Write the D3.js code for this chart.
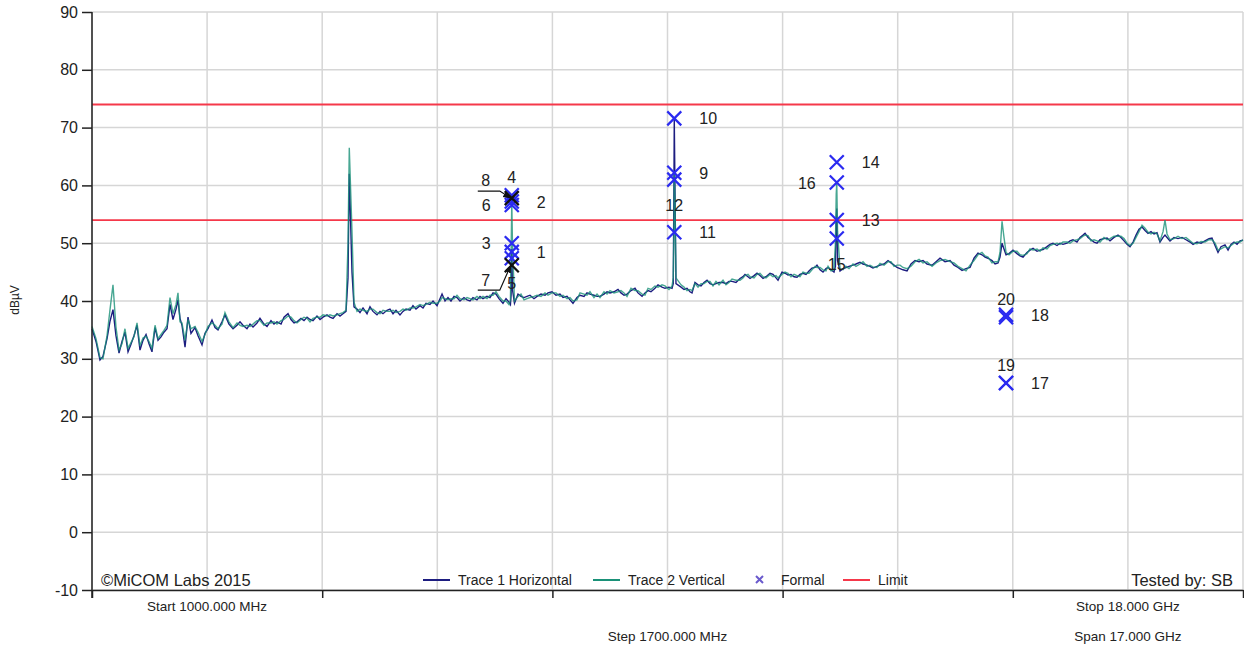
<!DOCTYPE html>
<html>
<head>
<meta charset="utf-8">
<script src="https://cdn.jsdelivr.net/npm/d3@7"></script>
<style>
  body { margin: 0; background: #fff; }
  svg { display: block; font-family: "Liberation Sans", Arial, sans-serif; }
</style>
</head>
<body>
<div id="chart"></div>
<script>
// sweep points (MHz) and the two traces (dBuV)
const freqMHz = [
  1000,1059,1118,1162,1222,1266,1310,1354,1399,1443,1487,1532,1576,1620,1665,1709,1753,1798,1842,1886,
  1931,1975,2019,2063,2108,2152,2196,2241,2270,2300,2329,2374,2418,2462,2521,2566,2625,2669,2713,2772,
  2817,2861,2920,2964,3023,3083,3142,3186,3230,3289,3334,3378,3437,3481,3540,3585,3644,3688,3732,3792,
  3836,3895,3939,3984,4028,4087,4131,4176,4220,4264,4323,4368,4412,4471,4515,4560,4619,4663,4707,4752,
  4781,4800,4840,4870,4914,4958,5003,5062,5106,5150,5209,5254,5298,5357,5401,5446,5490,5549,5593,5638,
  5697,5741,5785,5845,5889,5933,5992,6037,6096,6140,6170,6214,6258,6302,6347,6391,6435,6494,6539,6583,
  6627,6686,6731,6775,6834,6878,6923,6967,7011,7070,7115,7159,7180,7190,7200,7210,7240,7292,7336,7381,
  7425,7469,7528,7573,7632,7691,7735,7794,7853,7912,7957,8016,8060,8104,8163,8208,8267,8311,8355,8414,
  8459,8503,8562,8607,8651,8710,8769,8813,8858,8902,8961,9020,9064,9124,9168,9212,9256,9315,9360,9419,
  9463,9522,9567,9585,9595,9600,9610,9625,9700,9744,9788,9832,9862,9906,9951,9995,10039,10084,10128,10172,
  10216,10261,10320,10364,10408,10453,10512,10571,10615,10645,10689,10719,10778,10822,10866,10911,10955,11014,11058,11103,
  11132,11191,11236,11280,11324,11369,11413,11457,11501,11546,11590,11634,11679,11708,11753,11797,11841,11871,11915,11959,
  11980,11992,12000,12012,12048,12092,12136,12181,12240,12284,12343,12388,12447,12491,12535,12594,12639,12698,12757,12801,
  12846,12890,12934,12978,13038,13097,13156,13215,13274,13333,13407,13466,13525,13599,13673,13732,13791,13850,13909,13968,
  14027,14086,14145,14190,14234,14293,14338,14382,14411,14441,14470,14500,14544,14603,14662,14707,14751,14810,14854,14899,
  14958,15002,15046,15105,15150,15194,15253,15297,15341,15401,15445,15489,15548,15593,15637,15667,15711,15755,15800,15844,
  15888,15947,15992,16036,16095,16154,16198,16243,16287,16331,16376,16420,16464,16509,16553,16597,16641,16686,16730,16774,
  16819,16848,16878,16922,16981,17040,17099,17158,17218,17262,17321,17380,17439,17498,17542,17587,17631,17675,17734,17779,
  17823,17867,17912,17956,18000
];

const trace1 = [
  35.2,33.0,29.8,30.4,33.5,36.5,38.5,34.0,31.0,33.0,34.6,31.2,32.5,34.0,35.8,31.5,33.2,34.2,32.6,31.2,
  35.4,33.2,33.8,34.6,35.2,39.4,36.8,38.6,40.2,37.0,35.8,32.0,37.2,34.4,35.4,34.0,32.4,34.4,35.2,36.7,
  35.4,35.0,36.4,37.6,36.0,35.2,35.8,36.4,35.8,35.2,36.0,35.5,36.2,37.0,36.0,35.6,36.6,36.0,36.4,36.0,
  37.2,37.8,36.8,36.2,36.4,37.0,36.6,37.2,36.8,36.6,37.4,36.8,37.2,37.6,37.2,37.0,37.8,37.4,37.8,38.2,
  44.0,62.0,45.0,39.0,38.6,38.0,38.8,37.8,39.0,38.2,37.6,38.2,37.8,38.4,38.6,37.8,38.4,37.6,38.2,38.6,
  38.4,39.2,38.6,39.2,38.8,39.6,39.4,40.0,39.2,40.4,41.2,40.0,40.6,40.0,40.8,40.6,40.0,40.6,40.2,40.0,
  40.6,40.2,40.8,40.4,40.8,40.6,41.4,41.2,40.4,39.6,40.4,39.8,39.4,41.0,49.0,42.0,39.6,41.2,40.8,40.6,
  40.8,41.0,40.4,40.8,41.2,41.0,41.4,41.6,41.0,41.2,40.6,40.8,40.2,39.6,40.6,41.0,40.8,41.4,41.2,41.0,
  40.8,40.8,41.2,41.6,41.4,41.6,42.0,41.4,41.0,41.2,41.8,42.2,41.4,40.8,41.4,41.8,41.6,42.2,42.8,42.4,
  42.2,42.4,42.2,43.0,60.0,71.5,60.0,43.0,42.4,42.0,42.2,41.6,41.4,43.2,42.8,42.6,43.2,43.6,43.0,42.8,
  43.0,43.2,43.2,43.0,43.4,43.4,43.2,43.9,44.2,44.6,44.2,43.9,44.4,44.8,44.4,43.9,44.2,44.8,44.6,44.0,
  43.6,45.0,44.8,44.5,44.6,44.2,44.1,44.6,44.8,44.6,45.2,45.7,45.8,46.2,45.4,45.0,45.6,45.8,45.4,45.0,
  46.0,54.0,56.0,47.0,45.2,45.6,45.8,46.0,46.2,46.4,46.7,46.4,46.2,46.0,45.7,46.0,46.2,46.4,47.0,46.6,
  46.2,45.8,45.6,45.4,45.2,46.4,47.0,46.8,47.0,46.4,46.2,46.8,47.4,46.8,47.0,46.2,45.8,45.3,45.6,45.8,
  47.4,48.3,48.0,47.6,47.4,47.0,46.4,46.6,47.6,50.0,49.0,48.0,48.2,48.8,48.2,47.8,47.6,48.4,48.8,49.1,
  48.6,48.8,48.9,49.4,49.8,50.0,49.6,50.0,49.8,50.0,50.4,50.6,50.2,51.0,51.4,51.7,51.0,50.6,50.2,50.0,
  50.6,50.8,50.9,50.4,51.0,51.4,51.0,50.4,49.8,49.4,50.2,51.4,52.4,52.8,52.2,51.7,52.0,51.6,51.8,50.2,
  51.0,51.4,51.0,50.4,51.0,50.8,51.0,50.6,50.2,49.8,50.2,50.0,50.4,50.8,50.9,49.6,48.4,49.4,49.7,48.8,
  49.8,50.2,49.8,50.4,50.5
];

const trace2 = [
  35.6,33.5,30.2,30.0,34.0,38.5,42.8,35.5,31.5,32.6,35.2,31.8,32.8,33.8,36.2,32.2,33.6,33.9,33.0,31.8,
  35.8,33.5,34.2,34.9,35.8,40.6,37.8,39.4,41.4,36.4,36.2,33.2,36.8,35.2,35.6,34.6,33.0,34.2,35.6,36.2,
  35.8,35.2,36.0,38.0,36.4,35.4,36.2,35.8,35.6,35.8,35.6,36.0,36.6,36.6,35.8,36.2,36.2,36.4,36.0,36.6,
  36.8,37.4,37.2,36.6,36.2,36.8,37.2,37.0,36.4,37.0,37.2,37.2,37.6,37.4,37.6,37.4,37.6,37.8,38.0,38.4,
  50.0,66.5,52.0,39.8,38.2,38.6,38.4,38.2,38.6,38.6,38.0,37.8,38.4,38.2,38.2,38.4,38.0,38.2,38.6,38.4,
  38.8,38.8,39.0,39.4,39.2,39.4,39.8,39.6,39.6,40.0,40.6,40.4,40.2,40.4,40.4,41.0,40.4,40.2,40.6,40.4,
  40.2,40.8,40.4,40.8,40.4,41.0,41.0,41.6,40.8,40.0,40.0,39.4,40.2,48.0,57.2,50.0,40.0,40.8,41.2,40.2,
  40.4,40.6,40.8,41.0,40.8,41.4,41.0,41.4,41.4,40.8,41.0,40.4,40.6,40.0,40.2,41.4,41.2,41.0,41.6,40.6,
  41.2,40.6,41.6,41.2,41.8,41.4,41.6,41.8,41.4,40.8,42.2,41.8,41.8,41.2,41.0,42.2,42.0,42.6,42.4,42.8,
  42.6,42.0,42.6,44.0,52.0,62.0,58.0,44.0,42.8,42.4,41.8,42.0,41.8,43.0,42.4,43.0,43.0,43.4,43.4,42.6,
  43.4,42.8,43.6,42.8,43.2,43.8,43.6,43.6,44.0,44.4,44.6,44.2,44.0,44.6,44.8,44.2,44.0,44.6,44.2,44.4,
  44.0,44.6,45.0,44.8,44.2,44.6,44.4,44.2,45.0,44.8,44.8,45.4,46.0,45.8,45.8,45.4,45.2,46.0,45.2,45.4,
  50.0,58.5,60.4,52.0,45.6,45.4,46.0,45.6,46.4,46.0,46.4,46.8,46.0,46.2,45.9,45.8,46.5,46.2,46.8,46.8,
  46.0,46.2,46.2,45.8,45.6,46.0,46.8,47.2,46.6,46.8,46.0,46.6,47.0,47.2,46.8,46.6,46.0,45.6,45.2,46.2,
  47.0,48.0,48.4,47.8,47.6,46.6,46.8,46.8,48.4,53.8,51.0,48.4,48.0,48.6,48.6,48.0,47.9,48.2,49.0,48.8,
  49.0,48.6,49.2,49.0,49.6,49.8,50.0,49.8,50.2,50.2,50.0,50.4,50.6,50.8,51.2,51.4,51.3,50.4,50.6,50.4,
  50.2,51.0,50.6,50.8,51.2,51.2,51.2,50.8,50.0,49.6,50.0,51.0,52.0,53.1,52.6,51.9,51.6,51.9,51.6,50.4,
  52.0,54.0,51.6,50.6,50.8,51.2,50.8,51.0,50.4,50.0,49.9,50.3,50.2,50.6,50.6,50.0,48.8,49.0,49.4,49.2,
  49.6,50.0,50.2,50.2,50.6
];

// limit lines (dBuV)
const limitLevels = [74, 54];

// formal markers
const markerIds    = [1,2,3,4,5,6,7,8,9,10,11,12,13,14,15,16,17,18,19,20];
const markerFreqs  = [7200,7200,7200,7200,7200,7200,7200,7200,9600,9600,9600,9600,12000,12000,12000,12000,14500,14500,14500,14500];
const markerLevels = [48.5,57.2,50.0,58.3,47.4,56.6,46.2,57.8,62.2,71.6,51.9,61.0,54.0,64.0,50.8,60.5,25.8,37.6,25.8,37.2];
// where each marker number is written: r = right, l = left, t = above, b = below, a = arrow leader
const markerLabelSide = ['r','r','l','t','b','l','a','a','r','r','r','b','r','r','b','l','r','r','t','t'];

const yTicks = [90,80,70,60,50,40,30,20,10,0,-10];
const xGrid = [1000,2700,4400,6100,7800,9500,11200,12900,14600,16300,18000];
const xTicks = [1000,4400,7800,11200,14600,18000];

const W = 1244, H = 647;
const plotL = 92, plotR = 1243, plotT = 12, plotB = 590;

const svg = d3.select("#chart").append("svg").attr("width", W).attr("height", H);

svg.append("defs").append("marker")
    .attr("id", "arrow").attr("viewBox", "0 0 10 10").attr("refX", 9).attr("refY", 5)
    .attr("markerWidth", 7).attr("markerHeight", 7).attr("orient", "auto")
    .append("path").attr("d", "M0,1L10,5L0,9Z").attr("fill", "#111");

const x = d3.scaleLinear().domain([1000, 18000]).range([plotL, plotR]);
const y = d3.scaleLinear().domain([-10, 90]).range([plotB, plotT]);

// grid
svg.append("g").selectAll("line").data(yTicks).join("line")
    .attr("x1", plotL).attr("x2", plotR)
    .attr("y1", d => y(d)).attr("y2", d => y(d))
    .attr("stroke", "#d6d6d6").attr("stroke-width", 1.5);
svg.append("g").selectAll("line").data(xGrid).join("line")
    .attr("x1", d => x(d)).attr("x2", d => x(d))
    .attr("y1", plotT).attr("y2", plotB)
    .attr("stroke", "#d6d6d6").attr("stroke-width", 1.5);

// limits
svg.append("g").selectAll("line").data(limitLevels).join("line")
    .attr("x1", plotL).attr("x2", plotR)
    .attr("y1", d => y(d)).attr("y2", d => y(d))
    .attr("stroke", "#f5384a").attr("stroke-width", 1.8);

// traces
const line = d3.line().x((d, i) => x(freqMHz[i])).y(d => y(d));
svg.append("path").datum(trace1).attr("d", line)
    .attr("fill", "none").attr("stroke", "#1d1d80").attr("stroke-width", 1.4);
svg.append("path").datum(trace2).attr("d", line)
    .attr("fill", "none").attr("stroke", "#1a9178").attr("stroke-width", 1.4).attr("opacity", 0.8);

// axes
const yAxis = svg.append("g").attr("transform", `translate(${plotL},0)`)
    .call(d3.axisLeft(y).tickValues(yTicks).tickFormat(d => String(d)).tickSize(10).tickPadding(4).tickSizeOuter(0));
yAxis.select(".domain").attr("stroke", "#222").attr("stroke-width", 1.5).attr("d", `M0,${plotT}V${plotB + 8}`);
yAxis.selectAll(".tick line").attr("stroke", "#222").attr("stroke-width", 1.5);
yAxis.selectAll(".tick text").attr("font-size", 16).attr("fill", "#222").attr("font-family", "Liberation Sans, Arial");

const xAxis = svg.append("g").attr("transform", `translate(0,${plotB})`)
    .call(d3.axisBottom(x).tickValues(xTicks).tickSize(8).tickFormat("").tickSizeOuter(0));
xAxis.select(".domain").attr("stroke", "#222").attr("stroke-width", 1.5);
xAxis.selectAll(".tick line").attr("stroke", "#222").attr("stroke-width", 1.5);

// markers
const markers = markerIds.map((id, i) => ({ id, f: markerFreqs[i], v: markerLevels[i], side: markerLabelSide[i] }));
const mg = svg.append("g");
const s = 7;
markers.forEach(m => {
    const cx = x(m.f), cy = y(m.v);
    const col = m.side === 'a' ? "#111" : "#2b2bf0";
    mg.append("path")
        .attr("d", `M${cx - s},${cy - s}L${cx + s},${cy + s}M${cx - s},${cy + s}L${cx + s},${cy - s}`)
        .attr("stroke", col).attr("stroke-width", 2.2).attr("fill", "none");
    let tx = cx, ty = cy + 6, anchor = "middle";
    if (m.side === 'r') { tx = cx + 25; anchor = "start"; }
    if (m.side === 'l') { tx = cx - 21; anchor = "end"; }
    if (m.side === 't') { ty = cy - 12; }
    if (m.side === 'b') { ty = cy + 31; }
    if (m.side === 'a') {
        // number sits to the upper/lower left, joined to the marker by a bent leader
        const up = m.id === 8;
        const yl = up ? cy - 7 : cy + 25;
        mg.append("path")
            .attr("d", `M${cx - 34},${yl}L${cx - 12},${yl}L${cx - 1},${cy}`)
            .attr("stroke", "#111").attr("stroke-width", 1.2).attr("fill", "none")
            .attr("marker-end", "url(#arrow)");
        tx = cx - 26;
        ty = up ? cy - 12 : cy + 21;
    }
    mg.append("text").attr("x", tx).attr("y", ty).attr("text-anchor", anchor)
        .attr("font-size", 16).attr("fill", "#222").text(m.id);
});

// y label
svg.append("text").attr("transform", "translate(19,300) rotate(-90)")
    .attr("text-anchor", "middle").attr("font-size", 12).attr("fill", "#222").text("dBµV");

// corner notes
svg.append("text").attr("x", 101).attr("y", 586).attr("font-size", 16.5).attr("fill", "#222").text("©MiCOM Labs 2015");
svg.append("text").attr("x", 1233).attr("y", 586).attr("text-anchor", "end").attr("font-size", 16.5).attr("fill", "#222").text("Tested by: SB");

// sweep labels
const sweep = [
    { t: "Start 1000.000 MHz", f: 2700, row: 0 },
    { t: "Stop 18.000 GHz", f: 16300, row: 0 },
    { t: "Step 1700.000 MHz", f: 9500, row: 1 },
    { t: "Span 17.000 GHz", f: 16300, row: 1 }
];
svg.append("g").selectAll("text").data(sweep).join("text")
    .attr("x", d => x(d.f)).attr("y", d => d.row ? 641 : 611)
    .attr("text-anchor", "middle").attr("font-size", 13.5).attr("fill", "#222").text(d => d.t);

// legend
const legend = [
    { t: "Trace 1 Horizontal", c: "#1d1d80", kind: "line", x: 423 },
    { t: "Trace 2 Vertical", c: "#1a9178", kind: "line", x: 593 },
    { t: "Formal", c: "#6a5acd", kind: "x", x: 752 },
    { t: "Limit", c: "#f5384a", kind: "line", x: 843 }
];
const lg = svg.append("g");
legend.forEach(l => {
    if (l.kind === "line") {
        lg.append("line").attr("x1", l.x).attr("x2", l.x + 27).attr("y1", 580).attr("y2", 580)
            .attr("stroke", l.c).attr("stroke-width", 2);
        lg.append("text").attr("x", l.x + 35).attr("y", 585).attr("font-size", 14).attr("fill", "#222").text(l.t);
    } else {
        lg.append("path").attr("d", `M${l.x + 4},${576}L${l.x + 11},${583}M${l.x + 4},${583}L${l.x + 11},${576}`)
            .attr("stroke", l.c).attr("stroke-width", 2);
        lg.append("text").attr("x", l.x + 29).attr("y", 585).attr("font-size", 14).attr("fill", "#222").text(l.t);
    }
});
</script>
</body>
</html>
